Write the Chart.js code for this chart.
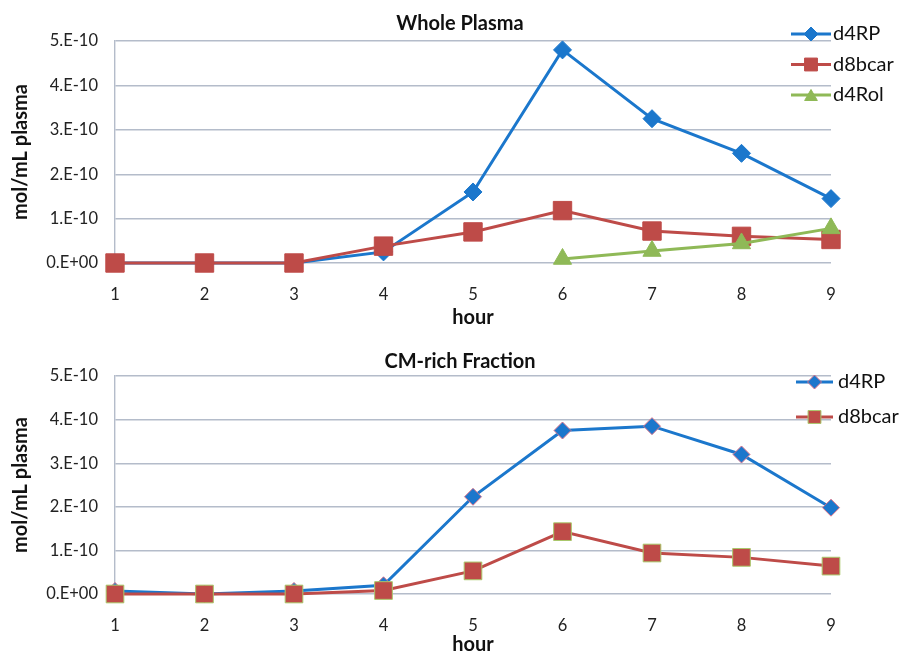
<!DOCTYPE html>
<html>
<head>
<meta charset="utf-8">
<script src="https://cdn.jsdelivr.net/npm/chart.js@4.4.1/dist/chart.umd.min.js"></script>
<style>
  html, body { margin: 0; padding: 0; background: #fff; overflow: hidden; }
  #wrap { position: relative; width: 902px; height: 651px; }
  .box { position: absolute; left: 0; width: 902px; height: 330px; }
  #b1 { top: 0; }
  #b2 { top: 330px; }
</style>
</head>
<body>
<div id="wrap">
  <div class="box" id="b1"><canvas id="c1"></canvas></div>
  <div class="box" id="b2"><canvas id="c2"></canvas></div>
</div>
<script>
// ---------- data ----------
const hours = ['1', '2', '3', '4', '5', '6', '7', '8', '9'];
const yTickLabels = ['0.E+00', '1.E-10', '2.E-10', '3.E-10', '4.E-10', '5.E-10'];

const titleWhole = 'Whole Plasma';
const titleCM = 'CM-rich Fraction';
const xTitle = 'hour';
const yTitle = 'mol/mL plasma';

// Whole Plasma (mol/mL plasma)
const wpD4RP   = [0, 0, 0, 2.5e-11, 1.6e-10, 4.8e-10, 3.25e-10, 2.47e-10, 1.45e-10];
const wpD8bcar = [0, 0, 0, 3.8e-11, 7.0e-11, 1.18e-10, 7.2e-11, 6.0e-11, 5.3e-11];
const wpD4Rol  = [null, null, null, null, null, 9e-12, 2.7e-11, 4.4e-11, 7.8e-11];

// CM-rich Fraction (mol/mL plasma)
const cmD4RP   = [7e-12, 0, 7e-12, 2.0e-11, 2.23e-10, 3.75e-10, 3.85e-10, 3.2e-10, 1.98e-10];
const cmD8bcar = [0, 0, 0, 8e-12, 5.3e-11, 1.43e-10, 9.4e-11, 8.4e-11, 6.4e-11];

// ---------- styling ----------
const BLUE = '#1B77CC';
const RED = '#BE4B48';
const GREEN = '#8FB957';
const GRID = '#B4BCCA';

Chart.defaults.font.family = 'Lato, "Open Sans", sans-serif';
Chart.defaults.color = '#222';

function drawMarker(ctx, style, x, y, r, fill, stroke) {
  ctx.save();
  ctx.fillStyle = fill;
  ctx.strokeStyle = stroke;
  ctx.lineWidth = 1;
  ctx.beginPath();
  if (style === 'rectRot') {
    ctx.moveTo(x - r, y); ctx.lineTo(x, y - r); ctx.lineTo(x + r, y); ctx.lineTo(x, y + r);
  } else if (style === 'rect') {
    const s = r * Math.SQRT1_2;
    ctx.rect(x - s, y - s, 2 * s, 2 * s);
  } else {
    const h = r * 0.866;
    ctx.moveTo(x, y - r * 0.75); ctx.lineTo(x + h, y + r * 0.75); ctx.lineTo(x - h, y + r * 0.75);
  }
  ctx.closePath();
  ctx.fill();
  ctx.stroke();
  ctx.restore();
}

const sideLegend = {
  id: 'sideLegend',
  afterDraw(chart, args, o) {
    const { ctx, chartArea } = chart;
    ctx.save();
    chart.data.datasets.forEach((d, i) => {
      const y = chartArea.top + o.dy + i * o.gap;
      const x0 = chartArea.right + o.x0;
      const x1 = chartArea.right + o.x1;
      ctx.strokeStyle = d.borderColor;
      ctx.lineWidth = 3;
      ctx.beginPath(); ctx.moveTo(x0, y); ctx.lineTo(x1, y); ctx.stroke();
      const r = d.pointStyle === 'rect' ? o.r * 1.3 : (d.pointStyle === 'triangle' ? o.r * 1.05 : o.r);
      drawMarker(ctx, d.pointStyle, (x0 + x1) / 2, y, r, d.pointBackgroundColor, d.pointBorderColor);
      ctx.fillStyle = '#111';
      ctx.font = '20px Lato, "Open Sans", sans-serif';
      ctx.textBaseline = 'middle';
      ctx.textAlign = 'left';
      ctx.fillText(d.label, x1 + o.tx, y);
    });
    ctx.restore();
  }
};

function makeOptions(titleText, titlePad, xScaleH, xTitlePad, legendOpts) {
  return {
    responsive: true,
    maintainAspectRatio: false,
    animation: false,
    layout: { padding: { left: 18, right: 0, top: 0, bottom: 0 } },
    plugins: {
      legend: { display: false },
      tooltip: { enabled: false },
      title: {
        display: true,
        text: titleText,
        color: '#111',
        font: { size: 20, weight: 'bold' },
        padding: titlePad
      },
      sideLegend: legendOpts
    },
    elements: { line: { tension: 0, borderWidth: 3 } },
    scales: {
      x: {
        type: 'category',
        offset: false,
        grid: { display: false },
        border: { display: false },
        ticks: { padding: 14, font: { size: 16.5 }, color: '#222', maxRotation: 0 },
        title: { display: true, text: xTitle, color: '#111', font: { size: 20, weight: 'bold' }, padding: { top: 0, bottom: xTitlePad } },
        afterFit(s) { s.height = xScaleH; }
      },
      y: {
        min: 0,
        max: 5e-10,
        grid: { color: GRID, lineWidth: 1.4, drawTicks: false },
        border: { display: true, color: GRID, width: 1.4 },
        ticks: {
          stepSize: 1e-10,
          padding: 17,
          font: { size: 16.5 },
          color: '#222',
          callback: (v, i) => yTickLabels[i]
        },
        title: { display: true, text: yTitle, color: '#111', font: { size: 20, weight: 'bold' }, padding: { top: -9, bottom: 0 } },
        afterFit(s) { s.width = 97; }
      },
      yPad: {
        type: 'linear',
        position: 'right',
        display: true,
        grid: { display: false },
        border: { display: false },
        ticks: { display: false },
        afterFit(s) { s.width = 71; }
      }
    }
  };
}

function series(label, data, color, style, radius, borderColor, order) {
  return {
    label: label,
    data: data,
    borderColor: color,
    backgroundColor: color,
    pointBackgroundColor: color,
    pointBorderColor: borderColor,
    pointBorderWidth: 1,
    pointStyle: style,
    pointRadius: radius,
    pointHoverRadius: radius,
    borderWidth: 3,
    tension: 0,
    clip: false,
    order: order
  };
}

new Chart(document.getElementById('c1'), {
  type: 'line',
  data: {
    labels: hours,
    datasets: [
      series('d4RP', wpD4RP, BLUE, 'rectRot', 9, BLUE, 3),
      series('d8bcar', wpD8bcar, RED, 'rect', 13, RED, 2),
      series('d4Rol', wpD4Rol, GREEN, 'triangle', 10.5, GREEN, 1)
    ]
  },
  options: makeOptions(titleWhole, { top: 12, bottom: 5 }, 67, 0, { dy: -7, gap: 30.5, x0: -40, x1: 0, tx: 2, r: 7 }),
  plugins: [sideLegend]
});

new Chart(document.getElementById('c2'), {
  type: 'line',
  data: {
    labels: hours,
    datasets: [
      series('d4RP', cmD4RP, BLUE, 'rectRot', 8.5, '#D9738A', 2),
      series('d8bcar', cmD8bcar, RED, 'rect', 12.5, '#A9C86B', 1)
    ]
  },
  options: makeOptions(titleCM, { top: 20, bottom: 2 }, 66, 3, { dy: 6, gap: 35, x0: -35, x1: 2, tx: 5, r: 7 }),
  plugins: [sideLegend]
});
</script>
</body>
</html>
